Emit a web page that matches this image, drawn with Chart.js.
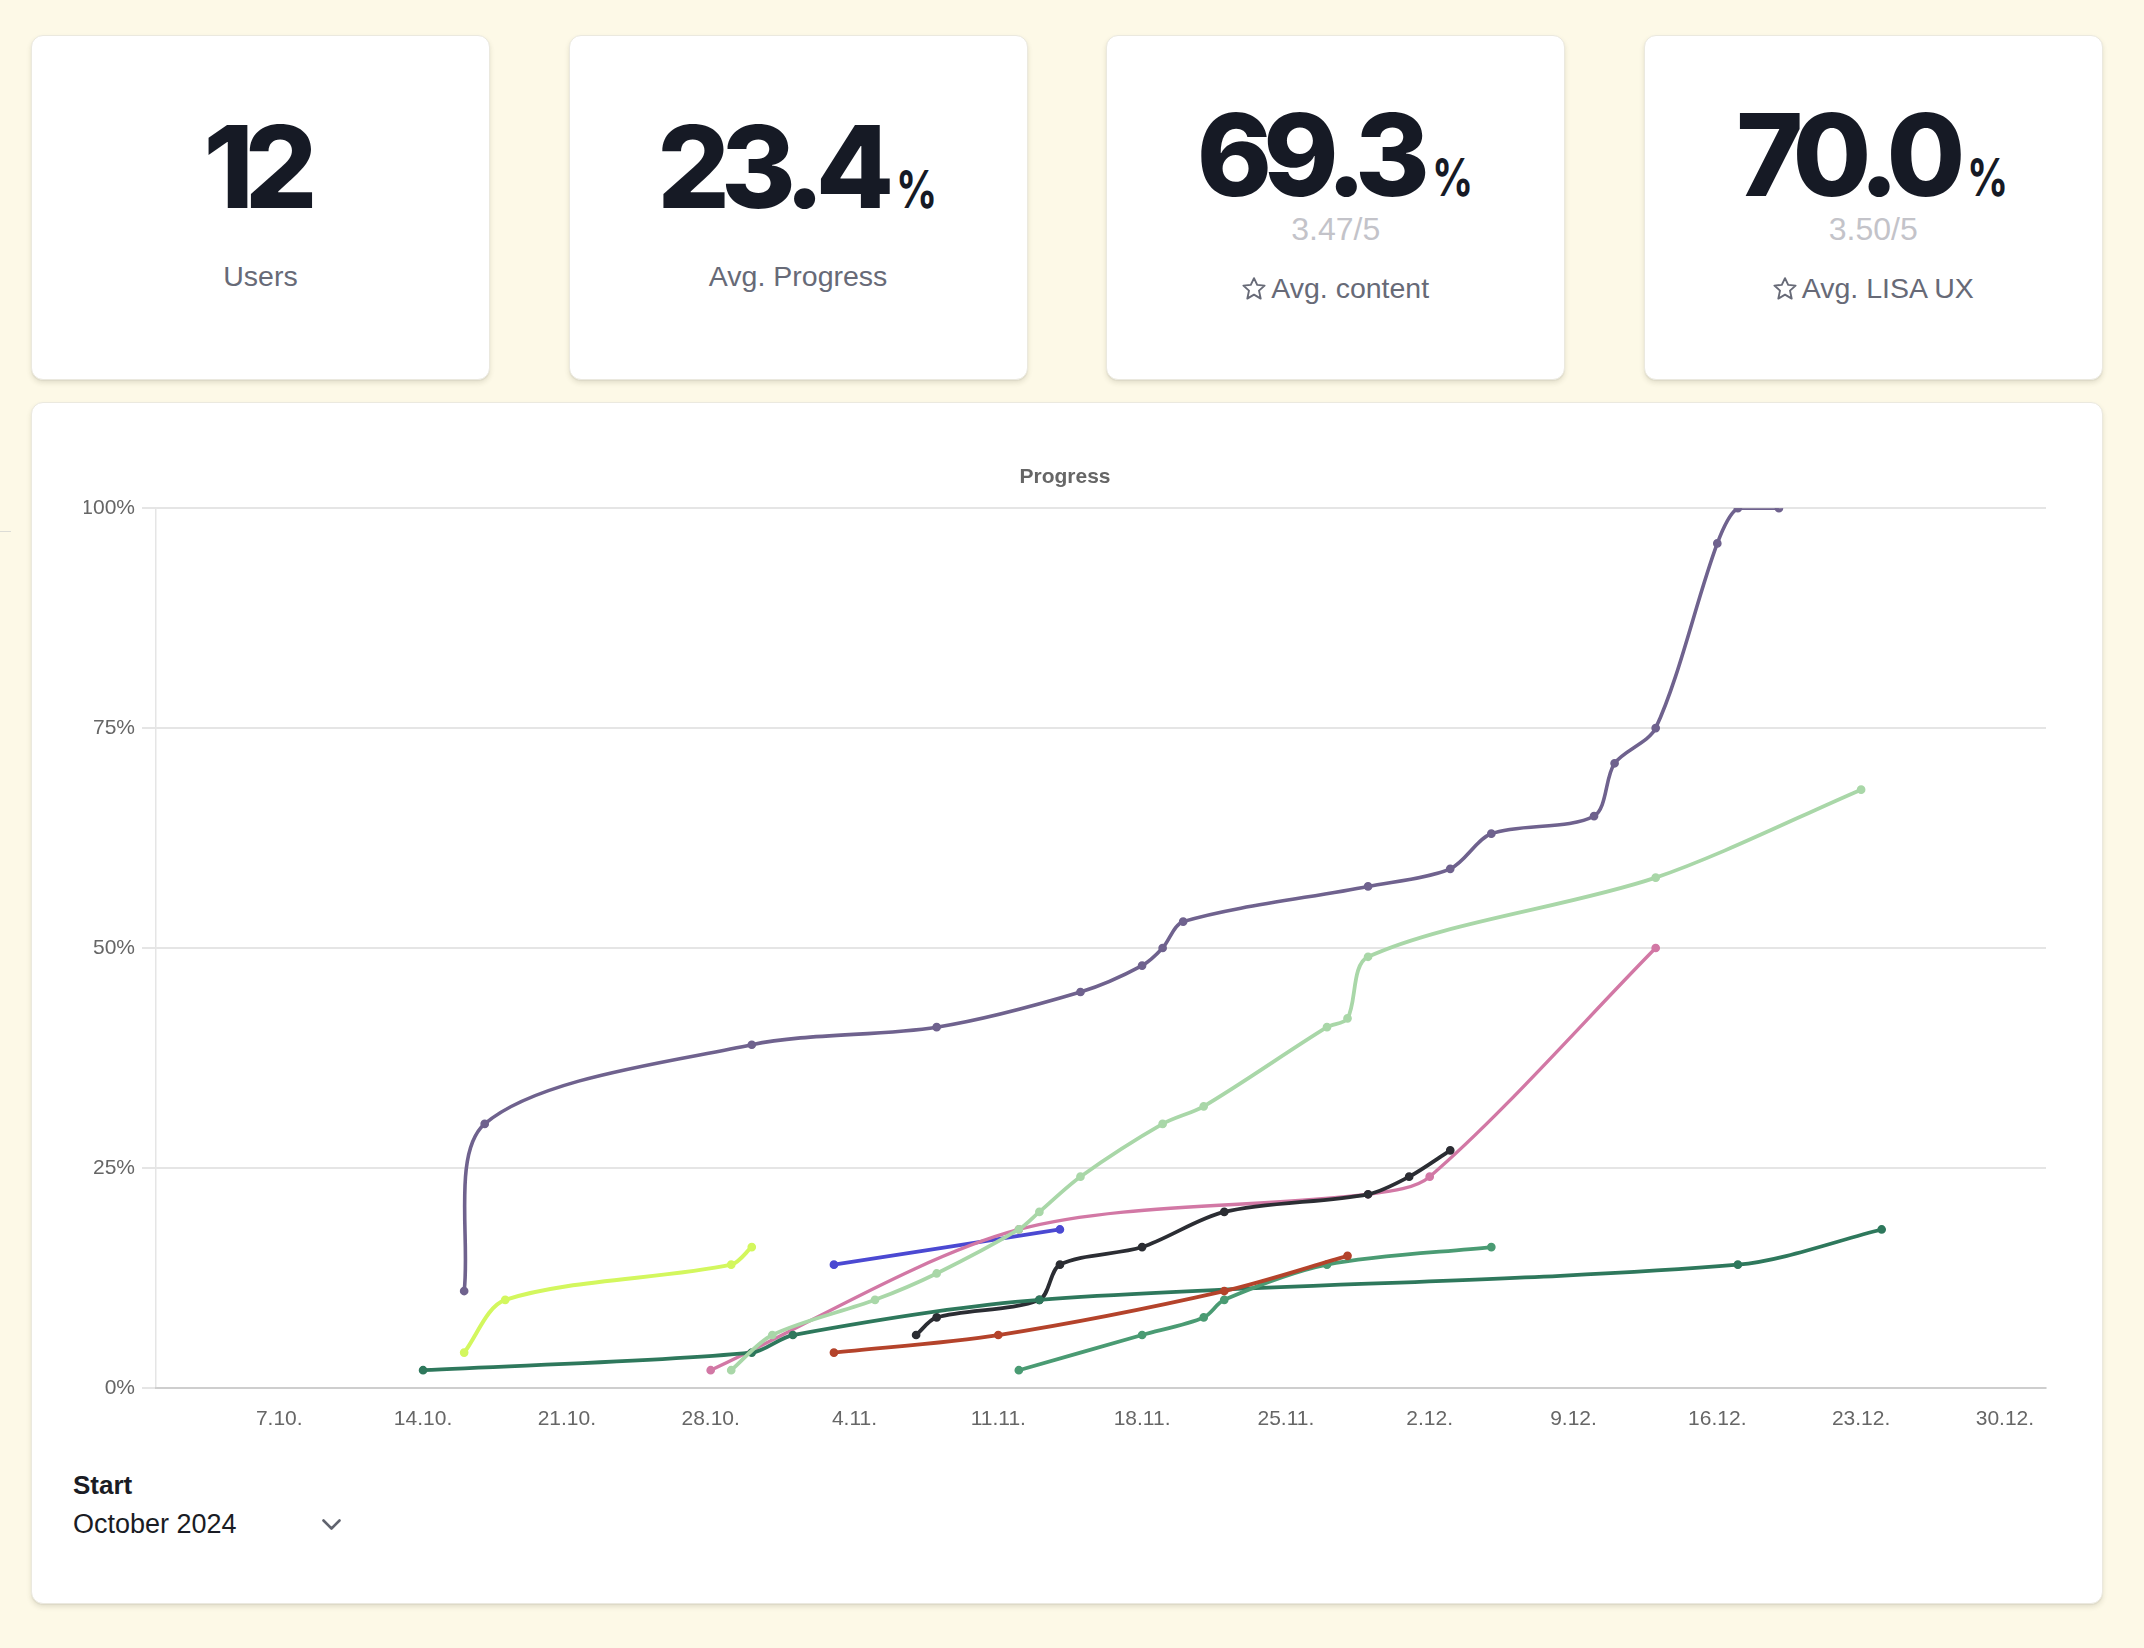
<!DOCTYPE html>
<html>
<head>
<meta charset="utf-8">
<script src="https://cdn.jsdelivr.net/npm/chart.js@4"></script>
<style>
html,body{margin:0;padding:0;}
body{width:2144px;height:1648px;background:#fdf9e7;position:relative;overflow:hidden;font-family:'Liberation Sans',Arial,sans-serif;}
.card{position:absolute;background:#fff;border:1px solid #ebe9df;border-radius:12px;box-shadow:0 3px 5px rgba(60,60,30,0.13),0 1px 1px rgba(0,0,0,0.05);box-sizing:border-box;}
.kpi{top:35px;width:459px;height:345px;}
.line{position:absolute;left:0;right:0;text-align:center;white-space:nowrap;}
.num{font-family:Inter,sans-serif;font-weight:800;font-size:114px;line-height:114px;color:#161a25;letter-spacing:-9px;}
.pct{display:inline-block;font-size:52px;font-weight:700;letter-spacing:0;margin-left:11px;margin-right:-10px;transform:scaleX(0.78);transform-origin:left bottom;}
.sub{font-size:32px;line-height:32px;color:#c3c3c9;}
.lab{font-size:28.5px;line-height:28.5px;color:#676a77;}
.star{width:24px;height:23px;vertical-align:-2px;margin-right:5px;}
#chartWrap{position:absolute;left:64px;top:455px;width:2002px;height:996px;}
.start{position:absolute;left:73px;top:1472px;font-size:26px;line-height:26px;font-weight:bold;color:#1a1c24;}
.month{position:absolute;left:73px;top:1511px;font-size:27px;line-height:27px;color:#1a1c24;}
.chev{position:absolute;left:321px;top:1518px;width:21px;height:13px;}
.edge{position:absolute;left:0;top:531px;width:11px;height:1px;background:#dcdcd6;}
</style>
</head>
<body>
<div class="edge"></div>

<div class="card kpi" style="left:31px">
  <div class="line num" style="top:74px;padding-right:9px">12</div>
  <div class="line lab" style="top:226px">Users</div>
</div>
<div class="card kpi" style="left:568.6px">
  <div class="line num" style="top:74px">23.4<span class="pct">%</span></div>
  <div class="line lab" style="top:226px">Avg. Progress</div>
</div>
<div class="card kpi" style="left:1106.2px">
  <div class="line num" style="top:62px">69.3<span class="pct">%</span></div>
  <div class="line sub" style="top:177px">3.47/5</div>
  <div class="line lab" style="top:237.6px"><svg class="star" viewBox="0 0 24 23"><path d="M12 1.2 L15.2 7.9 L22.6 8.6 L17 13.6 L18.7 21.6 L12 17.6 L5.3 21.6 L7 13.6 L1.4 8.6 L8.8 7.9 Z" fill="none" stroke="#676a77" stroke-width="1.9" stroke-linejoin="round"/></svg>Avg. content</div>
</div>
<div class="card kpi" style="left:1643.8px">
  <div class="line num" style="top:62px">70.0<span class="pct">%</span></div>
  <div class="line sub" style="top:177px">3.50/5</div>
  <div class="line lab" style="top:237.6px"><svg class="star" viewBox="0 0 24 23"><path d="M12 1.2 L15.2 7.9 L22.6 8.6 L17 13.6 L18.7 21.6 L12 17.6 L5.3 21.6 L7 13.6 L1.4 8.6 L8.8 7.9 Z" fill="none" stroke="#676a77" stroke-width="1.9" stroke-linejoin="round"/></svg>Avg. LISA UX</div>
</div>

<div class="card" style="left:31px;top:402px;width:2072px;height:1202px"></div>
<div id="chartWrap"><canvas id="chart" width="2002" height="996" style="width:2002px;height:996px"></canvas></div>
<div class="start">Start</div>
<div class="month">October 2024</div>
<svg class="chev" viewBox="0 0 21 13"><polyline points="2.5,2.5 10.5,10.5 18.5,2.5" fill="none" stroke="#60636e" stroke-width="2.6" stroke-linecap="round" stroke-linejoin="round"/></svg>

<script>
// ---- axis definitions ----
const xStartLabel = '1.10.';
const xEndLabel = '1.1.';
const xTickLabels = ['7.10.','14.10.','21.10.','28.10.','4.11.','11.11.','18.11.','25.11.','2.12.','9.12.','16.12.','23.12.','30.12.'];
const yTickValues = [0, 25, 50, 75, 100];
const chartTitle = 'Progress';

// ---- series (dates d.m., progress in %) ----
const purpleDates = ['16.10.','17.10.','30.10.','8.11.','15.11.','18.11.','19.11.','20.11.','29.11.','3.12.','5.12.','10.12.','11.12.','13.12.','16.12.','17.12.','19.12.'];
const purpleValues = [11,30,39,41,45,48,50,53,57,59,63,65,71,75,96,100,100];

const lightGreenDates = ['29.10.','31.10.','5.11.','8.11.','12.11.','13.11.','15.11.','19.11.','21.11.','27.11.','28.11.','29.11.','13.12.','23.12.'];
const lightGreenValues = [2,6,10,13,18,20,24,30,32,41,42,49,58,68];

const redDates = ['3.11.','11.11.','22.11.','28.11.'];
const redValues = [4,6,11,15];

const mediumGreenDates = ['12.11.','18.11.','21.11.','22.11.','27.11.','5.12.'];
const mediumGreenValues = [2,6,8,10,14,16];

const darkGreenDates = ['14.10.','30.10.','1.11.','13.11.','17.12.','24.12.'];
const darkGreenValues = [2,4,6,10,14,18];

const blackDates = ['7.11.','8.11.','13.11.','14.11.','18.11.','22.11.','29.11.','1.12.','3.12.'];
const blackValues = [6,8,10,14,16,20,22,24,27];

const pinkDates = ['28.10.','12.11.','29.11.','2.12.','13.12.'];
const pinkValues = [2,18,22,24,50];

const blueDates = ['3.11.','14.11.'];
const blueValues = [14,18];

const limeDates = ['16.10.','18.10.','29.10.','30.10.'];
const limeValues = [4,10,14,16];

// ---- styling (kept apart from data) ----
const seriesList = [
  [purpleDates, purpleValues],
  [lightGreenDates, lightGreenValues],
  [redDates, redValues],
  [mediumGreenDates, mediumGreenValues],
  [darkGreenDates, darkGreenValues],
  [blackDates, blackValues],
  [pinkDates, pinkValues],
  [blueDates, blueValues],
  [limeDates, limeValues]
];
const seriesColors = ['#6f628e','#a9d7a8','#b4432b','#4a9b73','#2e785c','#2b2d33','#d278a5','#4b49d2','#d3f75e'];
const seriesWidths = [3.6, 3.8, 3.8, 3.8, 3.8, 3.8, 3.4, 3.8, 4.0];

// date label "d.m." -> days since 1 Oct 2024
function dayOf(label) {
  const p = label.split('.');
  const d = parseInt(p[0], 10), m = parseInt(p[1], 10);
  const y = m < 7 ? 2025 : 2024;
  return (Date.UTC(y, m - 1, d) - Date.UTC(2024, 9, 1)) / 86400000;
}

const datasets = seriesList.map(([dates, values], i) => ({
  label: 'User ' + (i + 1),
  data: dates.map((dt, k) => ({ x: dayOf(dt), y: values[k] })),
  borderColor: seriesColors[i],
  backgroundColor: seriesColors[i],
  pointBackgroundColor: seriesColors[i],
  pointBorderColor: seriesColors[i],
  borderWidth: seriesWidths[i],
  pointRadius: 3.6,
  pointBorderWidth: 1.5,
  tension: 0.3,
  fill: false,
  clip: 0
}));

const tickFont = { family: "'Liberation Sans', Arial, sans-serif", size: 21 };

new Chart(document.getElementById('chart'), {
  type: 'line',
  data: { datasets },
  options: {
    responsive: false,
    animation: false,
    devicePixelRatio: 1,
    layout: { padding: { left: 20, right: 20, top: 0, bottom: 0 } },
    plugins: {
      legend: { display: false },
      tooltip: { enabled: false },
      title: {
        display: true,
        text: chartTitle,
        color: '#666',
        font: { family: "'Liberation Sans', Arial, sans-serif", size: 21, weight: 'bold' },
        padding: { top: 10, bottom: 18 }
      }
    },
    scales: {
      x: {
        type: 'linear',
        min: dayOf(xStartLabel),
        max: dayOf(xEndLabel),
        grid: { display: false, drawTicks: false },
        border: { display: true, color: 'rgba(0,0,0,0.1)', width: 2 },
        afterBuildTicks: (scale) => { scale.ticks = xTickLabels.map(l => ({ value: dayOf(l) })); },
        ticks: {
          autoSkip: false, maxRotation: 0, padding: 19, color: '#666', font: tickFont,
          callback: (v) => { const i = xTickLabels.findIndex(l => dayOf(l) === v); return i >= 0 ? xTickLabels[i] : ''; }
        }
      },
      y: {
        min: yTickValues[0],
        max: yTickValues[yTickValues.length - 1],
        afterBuildTicks: (scale) => { scale.ticks = yTickValues.map(v => ({ value: v })); },
        afterFit: (scale) => { scale.width = 72; },
        grid: { color: 'rgba(0,0,0,0.1)', lineWidth: 2, tickLength: 14 },
        border: { display: true, color: 'rgba(0,0,0,0.1)', width: 1.5 },
        ticks: { padding: 7, color: '#666', font: tickFont, callback: (v) => v + '%' }
      }
    }
  }
});
</script>
</body>
</html>
